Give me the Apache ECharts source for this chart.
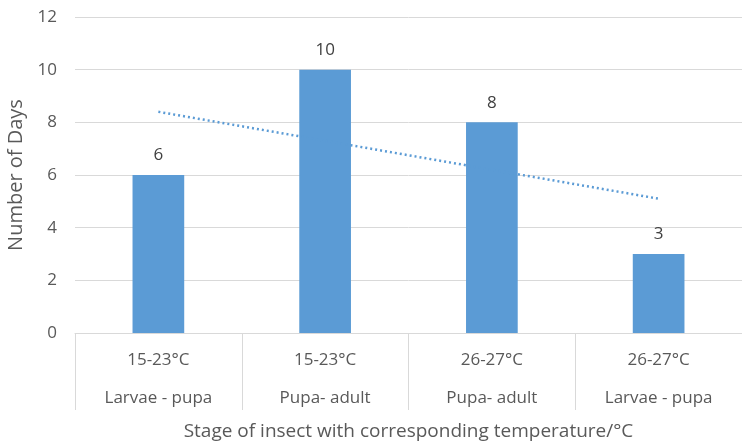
<!DOCTYPE html>
<html>
<head>
<meta charset="utf-8">
<script src="https://cdn.jsdelivr.net/npm/echarts@6/dist/echarts.min.js"></script>
<style>html,body{margin:0;padding:0;background:#fff}#c{width:742px;height:443px}</style>
</head>
<body>
<div id="c"></div>
<script>
const temperatures = ['15-23°C', '15-23°C', '26-27°C', '26-27°C'];
const stages = ['Larvae - pupa', 'Pupa- adult', 'Pupa- adult', 'Larvae - pupa'];
const days = [6, 10, 8, 3];
const trend = [8.4, 7.3, 6.2, 5.1];
const yTicks = [0, 2, 4, 6, 8, 10, 12];

const categories = temperatures.map((t, i) => t + '\n' + stages[i]);
const FONT = '"Open Sans", "Noto Sans", sans-serif';

const chart = echarts.init(document.getElementById('c'));
chart.setOption({
  animation: false,
  grid: { left: 75, right: 0, top: 17, bottom: 110, containLabel: false, outerBoundsMode: 'none' },
  xAxis: {
    type: 'category',
    data: categories,
    name: 'Stage of insect with corresponding temperature/°C',
    nameLocation: 'middle',
    nameGap: 84,
    nameTextStyle: { fontFamily: FONT, fontSize: 19, color: '#595959' },
    axisLine: { lineStyle: { color: '#d9d9d9', width: 1 } },
    axisTick: { show: true, length: 77, lineStyle: { color: '#d9d9d9' } },
    axisLabel: {
      fontFamily: FONT, fontSize: 17, color: '#595959',
      margin: 8, lineHeight: 38
    }
  },
  yAxis: {
    type: 'value',
    min: yTicks[0], max: yTicks[yTicks.length - 1], interval: 2,
    name: 'Number of Days',
    nameLocation: 'middle',
    nameGap: 36,
    nameTextStyle: { fontFamily: FONT, fontSize: 20, color: '#595959' },
    axisLine: { show: false },
    axisTick: { show: false },
    axisLabel: { fontFamily: FONT, fontSize: 17, color: '#595959', margin: 18 },
    splitLine: { lineStyle: { color: '#d9d9d9', width: 1 } }
  },
  series: [
    {
      type: 'bar',
      data: days,
      barWidth: '31%',
      itemStyle: { color: '#5b9bd5' },
      label: { show: true, position: 'top', distance: 11, fontFamily: FONT, fontSize: 17, color: '#404040' }
    },
    {
      type: 'line',
      data: trend,
      symbol: 'none',
      lineStyle: { color: '#5b9bd5', width: 2.5, type: [2, 3] },
      z: 3
    }
  ]
});
</script>
</body>
</html>
